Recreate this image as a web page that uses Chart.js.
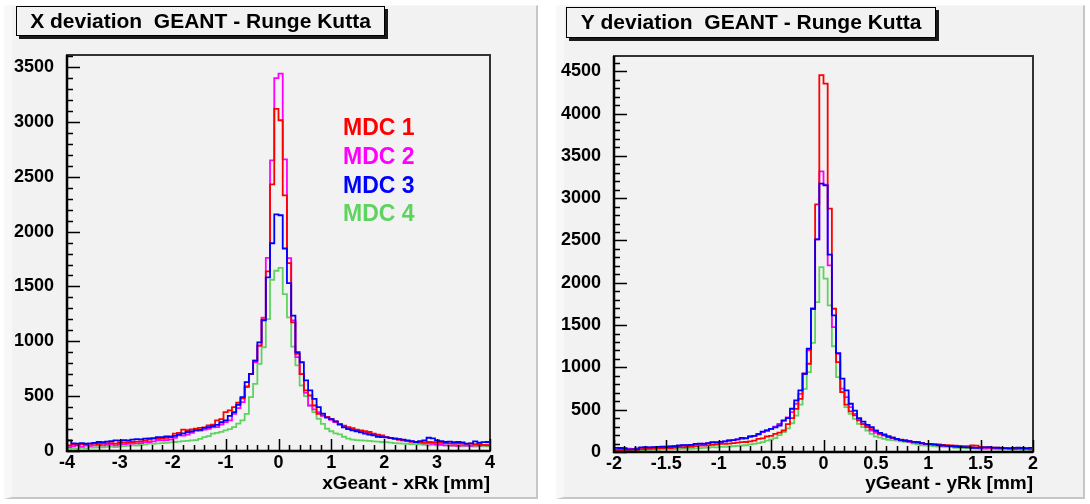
<!DOCTYPE html>
<html>

<head>
    <title>GEANT - Runge Kutta</title>
    <meta charset="UTF-8">
    <script src="https://cdn.jsdelivr.net/npm/chart.js@4.4.1/dist/chart.umd.min.js"></script>
    <style>
        body { margin: 0; background: #fff; width: 1090px; height: 504px; position: relative; overflow: hidden; }
        .pad { position: absolute; top: 5px; height: 494px; background: #f2f2f2; box-sizing: border-box;
               border-left: 8px solid #f8f8f8; border-top: 1px solid #f8f8f8;
               border-right: 2px solid #c6c6c6; border-bottom: 2px solid #c6c6c6; }
        #padX { left: 4px; width: 534px; }
        #padY { left: 556px; width: 529px; }
        canvas { position: absolute; top: 0; }
    </style>
</head>

<body>

<div class="pad" id="padX"></div>
<div class="pad" id="padY"></div>
<canvas id="devX" width="545" height="504" style="left:0"></canvas>
<canvas id="devY" width="545" height="504" style="left:545px"></canvas>

<script>
    // histogram binning: 100 bins on each axis
    const N_BINS = 100;
    const xRange = [-4, 4];
    const yRange = [-2, 2];

    const mdcNames = ["MDC 1", "MDC 2", "MDC 3", "MDC 4"];
    const mdcColors = ["#ff0000", "#ff00ff", "#0000ff", "#5fd35f"];

    // X deviation, counts per bin
    const mdc1X = [52, 60, 58, 62, 60, 65, 67, 64, 67, 70,
        72, 67, 75, 78, 80, 82, 85, 88, 95, 105,
        112, 110, 116, 120, 130, 158, 165, 194, 190, 198,
        203, 210, 215, 233, 240, 279, 290, 355, 370, 400,
        440, 480, 590, 700, 824, 960, 1200, 1637, 2431, 3118,
        3015, 2331, 1712, 1173, 885, 700, 552, 506, 415, 339,
        324, 309, 290, 270, 248, 230, 218, 209, 195, 188,
        180, 173, 158, 150, 143, 127, 120, 112, 105, 97,
        92, 85, 82, 80, 78, 82, 80, 78, 75, 73,
        70, 67, 68, 67, 65, 67, 62, 60, 55, 52];
    const mdc2X = [36, 45, 52, 40, 50, 48, 52, 55, 52, 55,
        58, 52, 60, 62, 65, 67, 70, 72, 78, 82,
        88, 97, 97, 100, 105, 120, 143, 140, 150, 165,
        188, 185, 195, 203, 215, 218, 240, 264, 280, 339,
        390, 445, 582, 700, 809, 961, 1215, 1761, 2649, 3400,
        3440, 2658, 1758, 1190, 855, 700, 530, 415, 380, 355,
        320, 310, 285, 264, 245, 218, 205, 194, 185, 175,
        165, 158, 150, 143, 135, 127, 120, 112, 105, 97,
        90, 85, 82, 75, 70, 67, 65, 60, 55, 52,
        52, 50, 48, 52, 50, 48, 52, 50, 55, 57];
    const mdc3X = [97, 70, 68, 72, 66, 70, 74, 82, 80, 85,
        90, 97, 95, 100, 97, 104, 108, 106, 112, 115,
        118, 127, 127, 133, 130, 137, 150, 160, 173, 178,
        188, 192, 210, 218, 228, 239, 262, 279, 320, 355,
        420, 491, 627, 703, 824, 991, 1190, 1582, 1894, 2158,
        2149, 1846, 1531, 1234, 900, 809, 643, 552, 476, 400,
        340, 305, 290, 270, 240, 215, 200, 188, 180, 170,
        158, 150, 143, 130, 127, 125, 120, 112, 108, 103,
        97, 90, 82, 90, 97, 121, 115, 97, 90, 82,
        85, 80, 82, 78, 67, 70, 88, 75, 80, 82];
    const mdc4X = [21, 25, 22, 28, 24, 30, 32, 36, 34, 38,
        40, 36, 42, 45, 48, 52, 50, 55, 58, 67,
        65, 70, 72, 75, 78, 82, 85, 90, 92, 97,
        100, 110, 127, 135, 158, 165, 175, 188, 200, 218,
        250, 279, 339, 491, 612, 794, 946, 1203, 1561, 1643,
        1670, 1431, 1218, 952, 780, 597, 500, 415, 355, 294,
        248, 203, 180, 160, 152, 130, 112, 103, 100, 97,
        95, 92, 88, 85, 82, 80, 76, 72, 70, 67,
        66, 64, 62, 60, 55, 52, 55, 52, 54, 52,
        48, 50, 45, 43, 45, 43, 40, 45, 43, 42];

    // Y deviation, counts per bin
    const mdc1Y = [26, 22, 28, 25, 30, 26, 35, 38, 36, 40,
        42, 45, 49, 47, 52, 57, 55, 60, 62, 70,
        77, 75, 82, 85, 88, 97, 95, 100, 105, 110,
        116, 118, 125, 135, 156, 160, 183, 190, 215, 230,
        254, 330, 400, 510, 629, 925, 1043, 1693, 2927, 4453,
        4354, 2876, 1693, 1062, 708, 560, 480, 432, 373, 330,
        294, 270, 254, 215, 200, 183, 170, 156, 145, 136,
        128, 120, 116, 105, 97, 95, 90, 89, 85, 80,
        77, 75, 72, 70, 69, 77, 75, 60, 57, 55,
        52, 50, 48, 45, 40, 38, 42, 45, 40, 30];
    const mdc2Y = [30, 32, 35, 40, 38, 45, 48, 52, 50, 55,
        57, 60, 62, 65, 68, 72, 77, 80, 85, 90,
        97, 100, 105, 110, 116, 120, 125, 136, 140, 150,
        156, 165, 183, 190, 215, 235, 254, 274, 300, 333,
        373, 410, 471, 570, 688, 925, 1200, 1693, 2513, 3317,
        3160, 2206, 1476, 1161, 750, 648, 530, 451, 390, 333,
        300, 254, 225, 210, 195, 176, 165, 150, 140, 130,
        120, 112, 105, 100, 95, 90, 85, 80, 77, 72,
        70, 65, 62, 60, 57, 55, 52, 50, 48, 45,
        45, 42, 40, 42, 38, 40, 36, 38, 35, 33];
    const mdc3Y = [49, 47, 45, 30, 32, 35, 55, 57, 55, 57,
        60, 62, 60, 65, 68, 77, 80, 82, 85, 97,
        100, 97, 105, 116, 112, 120, 125, 136, 140, 150,
        168, 160, 183, 190, 210, 240, 254, 274, 290, 313,
        370, 400, 511, 609, 728, 925, 1220, 1693, 2513, 3171,
        3152, 2332, 1614, 1168, 866, 728, 570, 490, 400, 360,
        320, 294, 250, 225, 207, 185, 170, 156, 140, 136,
        128, 120, 116, 105, 97, 92, 89, 82, 77, 72,
        69, 65, 60, 57, 55, 50, 49, 52, 55, 57,
        52, 50, 48, 45, 45, 48, 50, 47, 46, 49];
    const mdc4Y = [10, 12, 15, 12, 18, 20, 22, 26, 25, 28,
        26, 30, 32, 30, 35, 38, 36, 40, 38, 42,
        45, 48, 52, 57, 55, 60, 62, 65, 68, 72,
        77, 80, 90, 97, 105, 116, 135, 150, 165, 200,
        235, 280, 340, 430, 560, 747, 944, 1290, 1772, 2186,
        2048, 1733, 1250, 885, 708, 530, 451, 392, 333, 294,
        254, 215, 183, 170, 156, 145, 140, 136, 125, 120,
        116, 100, 90, 80, 77, 72, 68, 65, 62, 60,
        57, 50, 48, 45, 45, 42, 40, 38, 35, 38,
        35, 32, 35, 30, 32, 28, 30, 26, 28, 25];

    // axis labels
    const xTicksX = [-4, -3, -2, -1, 0, 1, 2, 3, 4];
    const yTicksX = [0, 500, 1000, 1500, 2000, 2500, 3000, 3500];
    const xTicksY = [-2, -1.5, -1, -0.5, 0, 0.5, 1, 1.5, 2];
    const yTicksY = [0, 500, 1000, 1500, 2000, 2500, 3000, 3500, 4000, 4500];

    const FONT = "'Liberation Sans', Arial, Helvetica, sans-serif";

    // bin contents -> step outline points (left edge of each bin, plus the last edge)
    function histPoints(values, range) {
        const w = (range[1] - range[0]) / N_BINS;
        const pts = values.map((v, i) => ({ x: range[0] + i * w, y: v }));
        pts.push({ x: range[1], y: values[values.length - 1] });
        return pts;
    }

    // ROOT-like frame: inward ticks, heavy axes, title box, text legend
    const rootStyle = {
        id: 'rootStyle',
        afterDatasetsDraw(chart, args, o) {
            const ctx = chart.ctx, a = chart.chartArea;
            const xs = chart.scales.x, ys = chart.scales.y;
            ctx.save();

            ctx.lineWidth = 2;
            ctx.strokeStyle = '#333';
            ctx.strokeRect(a.left, a.top, a.right - a.left, a.bottom - a.top);

            ctx.lineWidth = 1.5;
            ctx.strokeStyle = '#000';
            ctx.beginPath();
            const nx = Math.round((xs.max - xs.min) / o.xMinor);
            for (let k = 0; k <= nx; k++) {
                const v = xs.min + k * o.xMinor;
                const major = Math.abs(v / o.xMajor - Math.round(v / o.xMajor)) < 1e-6;
                const px = Math.round(xs.getPixelForValue(v)) + 0.5;
                ctx.moveTo(px, a.bottom);
                ctx.lineTo(px, a.bottom - (major ? 12 : 6));
            }
            for (let v = 0; v <= ys.max; v += o.yMinor) {
                const major = v % o.yMajor === 0;
                const py = Math.round(ys.getPixelForValue(v)) + 0.5;
                ctx.moveTo(a.left, py);
                ctx.lineTo(a.left + (major ? 13 : 6), py);
            }
            ctx.stroke();

            ctx.lineWidth = 2.5;
            ctx.beginPath();
            ctx.moveTo(a.left, a.top);
            ctx.lineTo(a.left, a.bottom);
            ctx.lineTo(a.right, a.bottom);
            ctx.stroke();

            // title box with drop shadow
            const b = o.box;
            ctx.fillStyle = '#1a1a1a';
            ctx.fillRect(b.x + 3, b.y + 3, b.w, b.h);
            ctx.fillStyle = '#f2f2f2';
            ctx.fillRect(b.x, b.y, b.w, b.h);
            ctx.lineWidth = 1;
            ctx.strokeStyle = '#000';
            ctx.strokeRect(b.x + 0.5, b.y + 0.5, b.w - 1, b.h - 1);
            ctx.fillStyle = '#000';
            ctx.font = 'bold 21px ' + FONT;
            ctx.textAlign = 'center';
            ctx.textBaseline = 'middle';
            ctx.fillText(o.title, b.x + b.w / 2, b.y + b.h / 2 + 1);

            if (o.legend) {
                ctx.font = 'bold 23px ' + FONT;
                ctx.textAlign = 'left';
                chart.data.datasets.forEach((ds, i) => {
                    ctx.fillStyle = ds.borderColor;
                    ctx.fillText(ds.label, o.legend.x, o.legend.y + i * o.legend.step);
                });
            }
            ctx.restore();
        }
    };

    function createChart(canvasId, cfg) {
        const datasets = cfg.series.map((vals, i) => ({
            label: mdcNames[i],
            data: histPoints(vals, cfg.range),
            borderColor: mdcColors[i],
            borderWidth: 1.8,
            pointRadius: 0,
            fill: false,
            stepped: 'before',
            order: [1, 2, 0, 3][i]
        }));

        return new Chart(document.getElementById(canvasId), {
            type: 'line',
            data: { datasets: datasets },
            plugins: [rootStyle],
            options: {
                responsive: false,
                animation: false,
                devicePixelRatio: 1,
                layout: { padding: { top: cfg.top, right: cfg.right, left: 0, bottom: 0 } },
                plugins: {
                    legend: { display: false },
                    tooltip: { enabled: false },
                    rootStyle: cfg.style
                },
                scales: {
                    x: {
                        type: 'linear',
                        min: cfg.range[0],
                        max: cfg.range[1],
                        grid: { display: false },
                        border: { display: false },
                        afterBuildTicks: s => { s.ticks = cfg.xTicks.map(v => ({ value: v })); },
                        afterFit: s => { s.height = cfg.xHeight; },
                        ticks: {
                            color: '#000', padding: -7, maxRotation: 0, autoSkip: false,
                            font: { family: FONT, size: 18, weight: 'bold' },
                            callback: v => String(v)
                        },
                        title: {
                            display: true, text: cfg.xTitle, align: 'end', color: '#000',
                            font: { family: FONT, size: 19, weight: 'bold' },
                            padding: { top: 0, bottom: 9 }
                        }
                    },
                    y: {
                        type: 'linear',
                        min: 0,
                        max: cfg.yMax,
                        grid: { display: false },
                        border: { display: false },
                        afterBuildTicks: s => { s.ticks = cfg.yTicks.map(v => ({ value: v })); },
                        afterFit: s => { s.width = cfg.yWidth; },
                        ticks: {
                            color: '#000', padding: 5,
                            font: { family: FONT, size: 18, weight: 'bold' },
                            callback: v => String(v)
                        }
                    }
                }
            }
        });
    }

    createChart('devX', {
        series: [mdc1X, mdc2X, mdc3X, mdc4X],
        range: xRange,
        xTicks: xTicksX,
        yTicks: yTicksX,
        yMax: 3610,
        top: 55, right: 55, yWidth: 67, xHeight: 53,
        xTitle: 'xGeant - xRk [mm]',
        style: {
            xMajor: 1, xMinor: 0.2, yMajor: 500, yMinor: 100,
            title: 'X deviation  GEANT - Runge Kutta',
            box: { x: 16, y: 6, w: 369, h: 30 },
            legend: { x: 343, y: 129, step: 28.7 }
        }
    });

    createChart('devY', {
        series: [mdc1Y, mdc2Y, mdc3Y, mdc4Y],
        range: yRange,
        xTicks: xTicksY,
        yTicks: yTicksY,
        yMax: 4680,
        top: 56, right: 57, yWidth: 69, xHeight: 52,
        xTitle: 'yGeant - yRk [mm]',
        style: {
            xMajor: 0.5, xMinor: 0.1, yMajor: 500, yMinor: 100,
            title: 'Y deviation  GEANT - Runge Kutta',
            box: { x: 21, y: 7, w: 370, h: 31 },
            legend: null
        }
    });
</script>

</body>

</html>
